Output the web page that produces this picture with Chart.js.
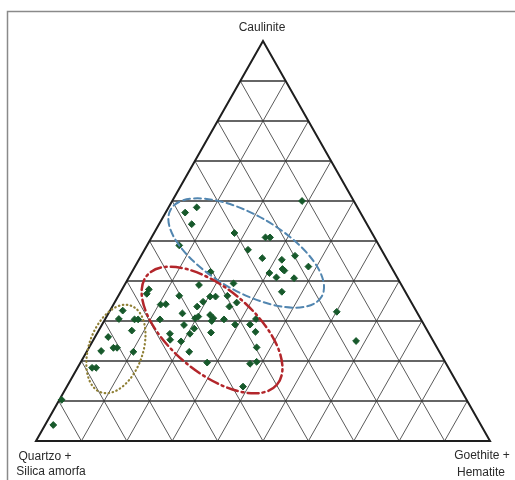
<!DOCTYPE html>
<html>
<head>
<meta charset="utf-8">
<script src="https://cdn.jsdelivr.net/npm/chart.js@4.4.1/dist/chart.umd.min.js"></script>
<style>
  html, body { margin: 0; padding: 0; background: #fff; }
  #wrap { position: relative; width: 515px; height: 480px; }
</style>
</head>
<body>
<div id="wrap"><canvas id="ternaryChart"></canvas></div>
<script>
// Ternary diagram: Caulinite (top) / Quartzo + Silica amorfa (left) / Goethite + Hematite (right)
// Sample compositions in %, quartzo = 100 - caulinite - goethite
const caulinite = [
  60, 58.4, 57.1, 54.2, 52, 50.9, 50.9, 48.9, 47.8, 45.7,
  45.3, 46.3, 43.6, 43, 42.6, 42, 40.9, 40.7, 37.3, 42.3,
  39.4, 39, 37.9, 36.8, 36.3, 36.1, 36.1, 36.3, 33.6, 34.6,
  34.8, 33.6, 34.1, 34.2, 32.6, 30.4, 30.4, 31.9, 31.1, 30.7,
  31.5, 30.7, 30.5, 30.4, 29, 30, 30.4, 29.1, 29.1, 30.5,
  27.6, 26.8, 28.1, 26.8, 27.1, 27.3, 26, 25.3, 24.9, 23.4,
  22.5, 23.3, 23.3, 22.3, 22.3, 19.6, 19.3, 19.8, 18.3, 18.3,
  13.6, 10.3, 4, 32.3, 25
];
const goethite = [
  28.6, 6.2, 4.3, 7.2, 17.7, 25.1, 26.1, 7.1, 22.8, 27,
  31.5, 33.9, 38.2, 32.8, 33.4, 30.4, 32.5, 36.5, 35.5, 17.3,
  23.8, 16.4, 5.9, 6, 13.4, 20.3, 21.5, 24, 25.8, 26.9,
  19.4, 18.7, 10.4, 11.5, 2.8, 6.5, 7.3, 16.3, 20.2, 19.7,
  22.6, 23.7, 3, 12.1, 18.1, 23.7, 26.2, 29.3, 32.6, 33.2,
  7.3, 16.1, 20.8, 20.5, 25, 34.7, 2.9, 16.9, 19.5, 36.9,
  3.1, 5.4, 6.2, 10.3, 22.6, 27.9, 37.5, 38.7, 3.2, 4.1,
  38.8, 0.5, 1.8, 50.1, 58
];

// grid every 10 %
const gridSteps = [10, 20, 30, 40, 50, 60, 70, 80, 90];

// field ellipses: centre in ternary %, half axes in % of the base, rotation in degrees
const groupEllipses = [
  { c: 47, g: 22.8, a: 19.2, b: 8.4, rot: 30, color: '#5286b0', dash: [7, 4], width: 2 },
  { c: 27.75, g: 24.9, a: 18.7, b: 9.25, rot: 40, color: '#b3262b', dash: [11, 4, 2, 4], width: 2.5 },
  { c: 23, g: 6.1, a: 10.1, b: 5.95, rot: 109, color: '#8f7f34', dash: [0.5, 3.5], width: 2.2 }
];

// ternary (caulinite, goethite) -> cartesian data units (base 0..100, height 0..100)
function toXY(c, g) {
  return { x: g + c / 2, y: c };
}

const points = caulinite.map((c, i) => toXY(c, goethite[i]));

const FONT = '12px "Liberation Sans", Arial, sans-serif';

const ternaryPlugin = {
  id: 'ternaryGrid',
  beforeDraw(chart) {
    const ctx = chart.ctx;
    ctx.save();
    // picture frame
    ctx.strokeStyle = '#8a8a8a';
    ctx.lineWidth = 1.5;
    ctx.strokeRect(7.5, 11.5, 600, 600);
    ctx.restore();
  },
  beforeDatasetsDraw(chart) {
    const ctx = chart.ctx;
    const xs = chart.scales.x, ys = chart.scales.y;
    const px = p => [xs.getPixelForValue(p.x), ys.getPixelForValue(p.y)];
    const line = (p1, p2) => {
      const a = px(p1), b = px(p2);
      ctx.beginPath();
      ctx.moveTo(a[0], a[1]);
      ctx.lineTo(b[0], b[1]);
      ctx.stroke();
    };
    ctx.save();
    // diagonal lines (constant goethite / constant quartzo)
    ctx.strokeStyle = '#5a5a5a';
    ctx.lineWidth = 1;
    gridSteps.forEach(s => {
      line(toXY(0, s), toXY(100 - s, s));
      line(toXY(0, 100 - s), toXY(100 - s, 0));
    });
    // horizontal lines (constant caulinite)
    ctx.strokeStyle = '#333';
    ctx.lineWidth = 1.5;
    gridSteps.forEach(s => line(toXY(s, 0), toXY(s, 100 - s)));
    // outer triangle
    ctx.strokeStyle = '#1e1e1e';
    ctx.lineWidth = 2;
    const v = [toXY(100, 0), toXY(0, 0), toXY(0, 100)].map(px);
    ctx.beginPath();
    ctx.moveTo(v[0][0], v[0][1]);
    ctx.lineTo(v[1][0], v[1][1]);
    ctx.lineTo(v[2][0], v[2][1]);
    ctx.closePath();
    ctx.stroke();
    ctx.restore();
  },
  afterDatasetsDraw(chart) {
    const ctx = chart.ctx;
    const xs = chart.scales.x, ys = chart.scales.y;
    const unit = Math.abs(xs.getPixelForValue(1) - xs.getPixelForValue(0));
    ctx.save();
    groupEllipses.forEach(e => {
      const p = toXY(e.c, e.g);
      ctx.beginPath();
      ctx.ellipse(xs.getPixelForValue(p.x), ys.getPixelForValue(p.y),
        e.a * unit, e.b * unit, e.rot * Math.PI / 180, 0, Math.PI * 2);
      ctx.strokeStyle = e.color;
      ctx.lineWidth = e.width;
      ctx.setLineDash(e.dash);
      ctx.lineCap = 'round';
      ctx.stroke();
    });
    ctx.restore();

    // vertex labels
    const top = toXY(100, 0), left = toXY(0, 0), right = toXY(0, 100);
    const tx = xs.getPixelForValue(top.x), ty = ys.getPixelForValue(top.y);
    const lx = xs.getPixelForValue(left.x), ly = ys.getPixelForValue(left.y);
    const rx = xs.getPixelForValue(right.x), ry = ys.getPixelForValue(right.y);
    ctx.save();
    ctx.font = FONT;
    ctx.fillStyle = '#2a2a2a';
    ctx.textAlign = 'center';
    ctx.textBaseline = 'middle';
    ctx.fillText('Caulinite', tx - 1, ty - 13);
    ctx.fillText('Quartzo +', lx + 9, ly + 16);
    ctx.fillText('Silica amorfa', lx + 15, ly + 31);
    ctx.fillText('Goethite +', rx - 8, ry + 15);
    ctx.fillText('Hematite', rx - 9, ry + 32);
    ctx.restore();
  }
};

new Chart(document.getElementById('ternaryChart'), {
  type: 'scatter',
  data: {
    datasets: [{
      label: 'Amostras',
      data: points,
      pointStyle: 'rectRot',
      pointRadius: 3.4,
      pointHoverRadius: 3.4,
      backgroundColor: '#17592b',
      borderColor: '#17592b',
      borderWidth: 1
    }]
  },
  options: {
    responsive: true,
    maintainAspectRatio: false,
    animation: false,
    layout: { padding: { left: 36, right: 25, top: 41, bottom: 39 } },
    plugins: { legend: { display: false }, tooltip: { enabled: false } },
    scales: {
      x: { type: 'linear', min: 0, max: 100, display: false },
      y: { type: 'linear', min: 0, max: 100, display: false }
    }
  },
  plugins: [ternaryPlugin]
});
</script>
</body>
</html>
